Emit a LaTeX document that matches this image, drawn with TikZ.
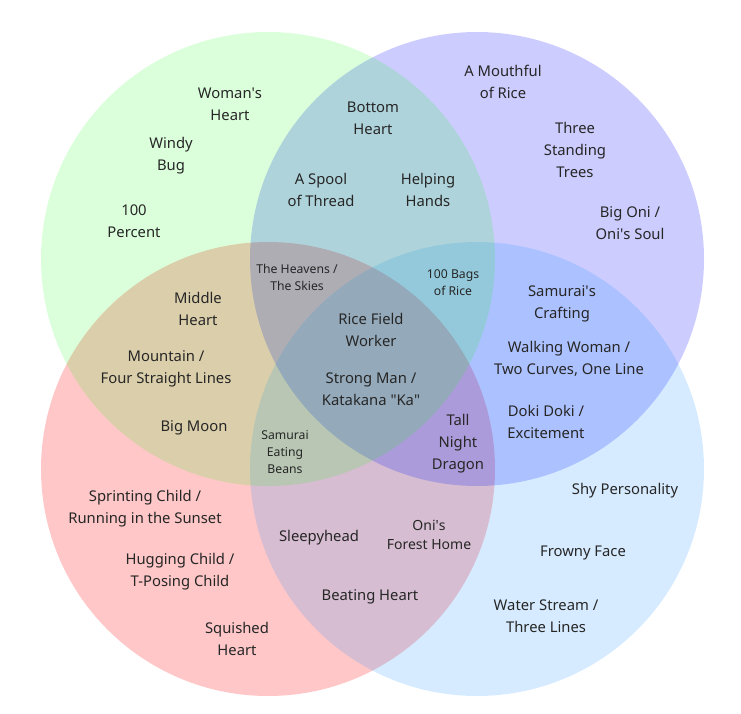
\documentclass[tikz,border=0pt]{standalone}
\usepackage{fontspec}
\setmainfont{Noto Sans}
\newcommand{\ap}{\textquotesingle}
\begin{document}
\begin{tikzpicture}[x=1pt,y=-1pt]
    \tikzset{
      ring/.style={fill=#1},
      lbl/.style={align=center,text=black!85,inner sep=0pt,yshift=-1.5pt,
        font=\fontsize{14.8}{22}\selectfont},
      sml/.style={lbl,font=\fontsize{12.2}{17}\selectfont},
      mid/.style={lbl,font=\fontsize{14}{19}\selectfont}
    }
    \definecolor{vred}{RGB}{255,0,0}
    \definecolor{vblue}{RGB}{0,0,255}
    \definecolor{vsky}{RGB}{30,144,255}
    \definecolor{vlime}{RGB}{0,255,0}
    \useasboundingbox (0,0) rectangle (741,714);

    % the four sets
    \fill[ring=vred,fill opacity=0.22] (268,469) circle[radius=227];
    \fill[ring=vblue,fill opacity=0.20] (477,259) circle[radius=227];
    \fill[ring=vsky,fill opacity=0.18] (477,469) circle[radius=227];
    \fill[ring=vlime,fill opacity=0.14] (268,259) circle[radius=227];

    % green only
    \node[lbl] (womans) at (230,103) {Woman\ap s\\Heart};
    \node[lbl] (windy) at (171,154) {Windy\\Bug};
    \node[lbl] (percent) at (134,220) {100\\Percent};

    % green and purple
    \node[lbl] (bottom) at (373,117) {Bottom\\Heart};
    \node[lbl] (spool) at (321,188) {A Spool\\of Thread};
    \node[lbl] (helping) at (428,188) {Helping\\Hands};

    % purple only
    \node[lbl] (mouthful) at (503,80) {A Mouthful\\of Rice};
    \node[lbl] (trees) at (575,148) {Three\\Standing\\Trees};
    \node[lbl] (bigoni) at (630,222) {Big Oni /\\Oni\ap s Soul};

    % three-way pieces
    \node[sml] (heavens) at (297,276) {The Heavens /\\The Skies};
    \node[sml] (bags) at (453,281) {100 Bags\\of Rice};
    \node[sml] (beans) at (285,451) {Samurai\\Eating\\Beans};
    \node[lbl] (dragon) at (458,442) {Tall\\Night\\Dragon};

    % green and red
    \node[lbl] (middle) at (198,307) {Middle\\Heart};
    \node[lbl] (mountain) at (166,367) {Mountain /\\Four Straight Lines};
    \node[lbl] (moon) at (194,426) {Big Moon};

    % all four
    \node[lbl] (ricefield) at (371,328) {Rice Field\\Worker};
    \node[lbl] (strong) at (371,388) {Strong Man /\\Katakana \textquotedbl Ka\textquotedbl};

    % purple and blue
    \node[lbl] (crafting) at (562,302) {Samurai\ap s\\Crafting};
    \node[lbl] (walking) at (569,357) {Walking Woman /\\Two Curves, One Line};
    \node[lbl] (doki) at (546,420) {Doki Doki /\\Excitement};

    % blue only
    \node[lbl] (shy) at (625,489) {Shy Personality};
    \node[lbl] (frowny) at (583,551) {Frowny Face};
    \node[lbl] (stream) at (546,615) {Water Stream /\\Three Lines};

    % red only
    \node[lbl] (sprinting) at (145,507) {Sprinting Child /\\Running in the Sunset};
    \node[lbl] (hugging) at (180,570) {Hugging Child /\\T-Posing Child};
    \node[lbl] (squished) at (237,637) {Squished\\Heart};

    % red and blue
    \node[lbl] (sleepy) at (319,536) {Sleepyhead};
    \node[mid] (forest) at (429,533) {Oni\ap s\\Forest Home};
    \node[lbl] (beating) at (370,595) {Beating Heart};
\end{tikzpicture}
\end{document}
